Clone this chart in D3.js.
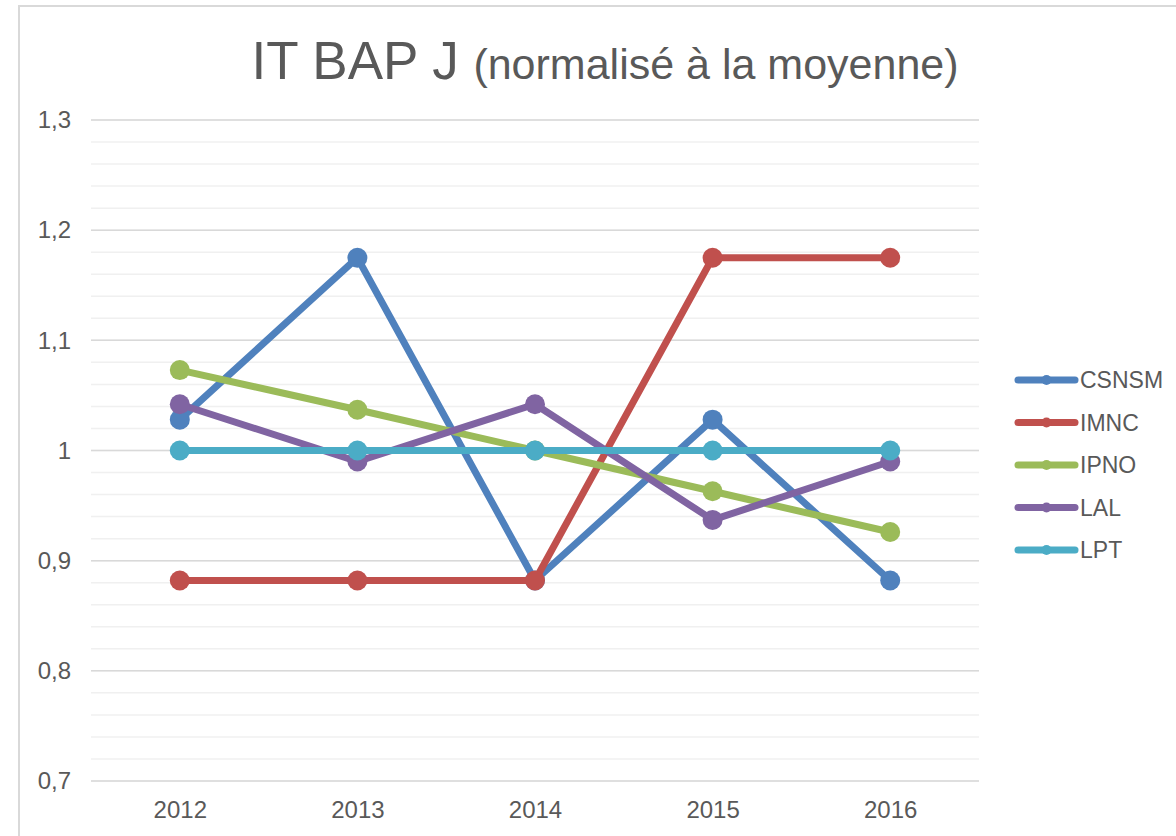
<!DOCTYPE html>
<html>
<head>
<meta charset="utf-8">
<script src="https://cdn.jsdelivr.net/npm/d3@7"></script>
<style>
  body { margin: 0; background: #fff; }
  svg { display: block; font-family: "Liberation Sans", Arial, sans-serif; }
</style>
</head>
<body>
<script>
var width = 1176;
var height = 836;

var years = ["2012", "2013", "2014", "2015", "2016"];
var seriesNames = ["CSNSM", "IMNC", "IPNO", "LAL", "LPT"];
var colors = ["#4f81bd", "#c0504d", "#9bbb59", "#8064a2", "#4bacc6"];

var csnsm = [1.028, 1.175, 0.882, 1.028, 0.882];
var imnc  = [0.882, 0.882, 0.882, 1.175, 1.175];
var ipno  = [1.073, 1.037, 1.000, 0.963, 0.926];
var lal   = [1.042, 0.990, 1.042, 0.937, 0.990];
var lpt   = [1.000, 1.000, 1.000, 1.000, 1.000];

var yTicks = [0.7, 0.8, 0.9, 1.0, 1.1, 1.2, 1.3];

var series = [csnsm, imnc, ipno, lal, lpt];

var svg = d3.select("body")
  .append("svg")
  .attr("width", width)
  .attr("height", height);

// chart frame
svg.append("rect")
  .attr("x", 19)
  .attr("y", 6)
  .attr("width", 1300)
  .attr("height", 1000)
  .attr("fill", "none")
  .attr("stroke", "#d9d9d9")
  .attr("stroke-width", 2);

var x = d3.scalePoint()
  .domain(years)
  .range([91, 979])
  .padding(0.5);

var y = d3.scaleLinear()
  .domain([0.7, 1.3])
  .range([781, 120]);

// minor gridlines
svg.append("g")
  .selectAll("line")
  .data(y.ticks(30))
  .enter()
  .append("line")
  .attr("x1", 91)
  .attr("x2", 979)
  .attr("y1", function(d) { return y(d); })
  .attr("y2", function(d) { return y(d); })
  .attr("stroke", "#f0f0f0")
  .attr("stroke-width", 1.5);

// major gridlines
svg.append("g")
  .selectAll("line")
  .data(yTicks)
  .enter()
  .append("line")
  .attr("x1", 91)
  .attr("x2", 979)
  .attr("y1", function(d) { return y(d); })
  .attr("y2", function(d) { return y(d); })
  .attr("stroke", "#d9d9d9")
  .attr("stroke-width", 1.5);

var fmt = function(d) { return String(+d.toFixed(1)).replace(".", ","); };

var yAxis = svg.append("g")
  .attr("transform", "translate(71,0)")
  .call(d3.axisLeft(y).tickValues(yTicks).tickSize(0).tickPadding(0).tickFormat(fmt));
yAxis.select(".domain").remove();
yAxis.selectAll("text")
  .attr("font-size", 24)
  .attr("font-family", "Liberation Sans, Arial, sans-serif")
  .attr("fill", "#595959");

var xAxis = svg.append("g")
  .attr("transform", "translate(0,795)")
  .call(d3.axisBottom(x).tickSize(0).tickPadding(6));
xAxis.select(".domain").remove();
xAxis.selectAll("text")
  .attr("font-size", 24)
  .attr("font-family", "Liberation Sans, Arial, sans-serif")
  .attr("fill", "#595959");

var line = d3.line()
  .x(function(d, i) { return x(years[i]); })
  .y(function(d) { return y(d); });

var groups = svg.selectAll("g.series")
  .data(series)
  .enter()
  .append("g")
  .attr("class", "series");

groups.append("path")
  .attr("d", function(d) { return line(d); })
  .attr("fill", "none")
  .attr("stroke", function(d, i) { return colors[i]; })
  .attr("stroke-width", 7)
  .attr("stroke-linejoin", "round");

groups.each(function(d, si) {
  d3.select(this).selectAll("circle")
    .data(d)
    .enter()
    .append("circle")
    .attr("cx", function(v, i) { return x(years[i]); })
    .attr("cy", function(v) { return y(v); })
    .attr("r", 10)
    .attr("fill", colors[si]);
});

// legend
var legend = svg.selectAll("g.legend")
  .data(seriesNames)
  .enter()
  .append("g")
  .attr("class", "legend")
  .attr("transform", function(d, i) {
    return "translate(" + [1018, 380 + i * 42.5] + ")";
  });

legend.append("line")
  .attr("x1", 0)
  .attr("x2", 57)
  .attr("stroke", function(d, i) { return colors[i]; })
  .attr("stroke-width", 7)
  .attr("stroke-linecap", "round");

legend.append("circle")
  .attr("cx", 28.5)
  .attr("r", 5)
  .attr("fill", function(d, i) { return colors[i]; });

legend.append("text")
  .attr("x", 62)
  .attr("dy", "0.35em")
  .attr("font-size", 23)
  .attr("fill", "#595959")
  .text(function(d) { return d; });

// title
var title = svg.append("text")
  .attr("x", 605)
  .attr("y", 79)
  .attr("text-anchor", "middle")
  .attr("fill", "#595959");
title.append("tspan")
  .attr("font-size", 53)
  .text("IT BAP J ");
title.append("tspan")
  .attr("font-size", 43)
  .text("(normalisé à la moyenne)");
</script>
</body>
</html>
